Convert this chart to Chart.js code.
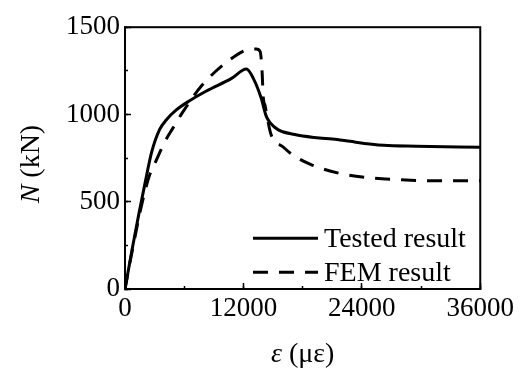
<!DOCTYPE html>
<html><head><meta charset="utf-8">
<script src="https://cdn.jsdelivr.net/npm/chart.js@4/dist/chart.umd.min.js"></script>
<style>html,body{margin:0;padding:0;background:#fff;}#wrap{width:524px;height:370px;position:relative;}</style>
</head><body><div id="wrap"><canvas id="c" width="524" height="370"></canvas></div>
<script>
// ---- data ----
const strainTested = [0, 700, 1400, 2000, 2700, 3500, 4200, 5200, 6500, 8200, 10800, 12300, 13000, 13800, 14300, 14700, 15500, 17200, 19200, 21500, 22800, 26200, 29500, 36000];
const loadTested   = [0, 220, 429, 598, 784, 913, 970, 1026, 1077, 1133, 1207, 1260, 1207, 1094, 992, 953, 913, 885, 868, 857, 846, 823, 818, 812];
const strainFEM = [0, 700, 1700, 2500, 3000, 4000, 4900, 5800, 7800, 10500, 12500, 13300, 13700, 13900, 14000, 14200, 14800, 16000, 17000, 18800, 21800, 24800, 27800, 31200, 36000];
const loadFEM   = [0, 210, 485, 654, 716, 840, 926, 1009, 1167, 1308, 1372, 1375, 1360, 1235, 1105, 1049, 885, 815, 768, 714, 662, 637, 626, 620, 620];
const xTicks = [0, 12000, 24000, 36000];
const xMinorTicks = [0, 6000, 12000, 18000, 24000, 30000, 36000];
const yTicks = [0, 500, 1000, 1500];
const yMinorTicks = [0, 250, 500, 750, 1000, 1250, 1500];
const seriesNames = ['Tested result', 'FEM result'];
const xTitle = ['ε', ' (με)'];
const yTitle = ['N', ' (kN)'];

const FONT = "'Liberation Serif', 'Times New Roman', serif";
const toXY = (xs, ys) => xs.map((x, i) => ({x: x, y: ys[i]}));

const boxPlugin = {
  id: 'box',
  afterDraw(chart) {
    const {ctx, chartArea: a} = chart;
    ctx.save();
    ctx.strokeStyle = '#000';
    ctx.lineWidth = 2;
    ctx.strokeRect(a.left, a.top, a.right - a.left, a.bottom - a.top);
    ctx.restore();
  }
};

const legendPlugin = {
  id: 'customLegend',
  afterDraw(chart) {
    const {ctx, chartArea: a} = chart;
    const x0 = a.left + 128, x1 = a.left + 193, tx = a.left + 199;
    const rows = [a.top + 211, a.top + 245];
    ctx.save();
    chart.data.datasets.forEach((ds, i) => {
      const y = rows[i];
      ctx.beginPath();
      ctx.strokeStyle = ds.borderColor;
      ctx.lineWidth = ds.borderWidth;
      ctx.setLineDash(ds.borderDash || []);
      ctx.moveTo(x0, y); ctx.lineTo(x1, y);
      ctx.stroke();
      ctx.setLineDash([]);
      ctx.fillStyle = '#000';
      ctx.font = '28px ' + FONT;
      ctx.textBaseline = 'middle';
      ctx.textAlign = 'left';
      ctx.fillText(ds.label, tx, y + 1);
    });
    ctx.restore();
  }
};

function drawMixed(ctx, parts, cx, baseY) {
  const fonts = ['italic 28px ' + FONT, '28px ' + FONT];
  let widths = parts.map((p, i) => { ctx.font = fonts[i]; return ctx.measureText(p).width; });
  let x = cx - (widths[0] + widths[1]) / 2;
  ctx.textBaseline = 'alphabetic';
  ctx.textAlign = 'left';
  parts.forEach((p, i) => { ctx.font = fonts[i]; ctx.fillText(p, x, baseY); x += widths[i]; });
}

const titlePlugin = {
  id: 'axisTitles',
  afterDraw(chart) {
    const {ctx, chartArea: a} = chart;
    ctx.save();
    ctx.fillStyle = '#000';
    drawMixed(ctx, xTitle, (a.left + a.right) / 2, 362);
    ctx.translate(39, (a.top + a.bottom) / 2 + 6);
    ctx.rotate(-Math.PI / 2);
    drawMixed(ctx, yTitle, 0, 0);
    ctx.restore();
  }
};

const tickFont = {family: FONT, size: 27};
const setTicks = arr => scale => { scale.ticks = arr.map(v => ({value: v})); };

new Chart(document.getElementById('c'), {
  type: 'line',
  data: {
    datasets: [
      {label: seriesNames[0], data: toXY(strainTested, loadTested), borderColor: '#000', borderWidth: 3, pointRadius: 0, cubicInterpolationMode: 'monotone', fill: false, xAxisID: 'x', yAxisID: 'y'},
      {label: seriesNames[1], data: toXY(strainFEM, loadFEM), borderColor: '#000', borderWidth: 3, borderDash: [15, 11], pointRadius: 0, cubicInterpolationMode: 'monotone', fill: false, xAxisID: 'x', yAxisID: 'y'}
    ]
  },
  options: {
    responsive: false,
    devicePixelRatio: 1,
    animation: false,
    layout: {padding: {top: 23, right: 39, left: 0, bottom: 0}},
    plugins: {legend: {display: false}, tooltip: {enabled: false}},
    scales: {
      x: {
        type: 'linear', position: 'bottom', weight: 1, min: 0, max: 36000,
        afterBuildTicks: setTicks(xTicks),
        afterFit: s => { s.height = 81; },
        ticks: {font: tickFont, color: '#000', padding: 10, maxRotation: 0, autoSkip: false, callback: v => String(v)},
        grid: {drawOnChartArea: false, tickLength: -6, tickWidth: 1.5, tickColor: '#000'},
        border: {display: true, color: '#000', width: 2}
      },
      xMinor: {
        type: 'linear', position: 'bottom', weight: 0, min: 0, max: 36000,
        afterBuildTicks: setTicks(xMinorTicks),
        afterFit: s => { s.height = 0; },
        ticks: {display: false},
        grid: {drawOnChartArea: false, tickLength: -3, tickWidth: 1.5, tickColor: '#000'},
        border: {display: false}
      },
      y: {
        type: 'linear', position: 'left', weight: 1, min: 0, max: 1500,
        afterBuildTicks: setTicks(yTicks),
        afterFit: s => { s.width = 125; },
        ticks: {font: tickFont, color: '#000', padding: 11, autoSkip: false, callback: v => String(v)},
        grid: {drawOnChartArea: false, tickLength: -6, tickWidth: 1.5, tickColor: '#000'},
        border: {display: true, color: '#000', width: 2}
      },
      yMinor: {
        type: 'linear', position: 'left', weight: 0, min: 0, max: 1500,
        afterBuildTicks: setTicks(yMinorTicks),
        afterFit: s => { s.width = 0; },
        ticks: {display: false},
        grid: {drawOnChartArea: false, tickLength: -3, tickWidth: 1.5, tickColor: '#000'},
        border: {display: false}
      }
    }
  },
  plugins: [boxPlugin, legendPlugin, titlePlugin]
});
</script>
</body></html>
